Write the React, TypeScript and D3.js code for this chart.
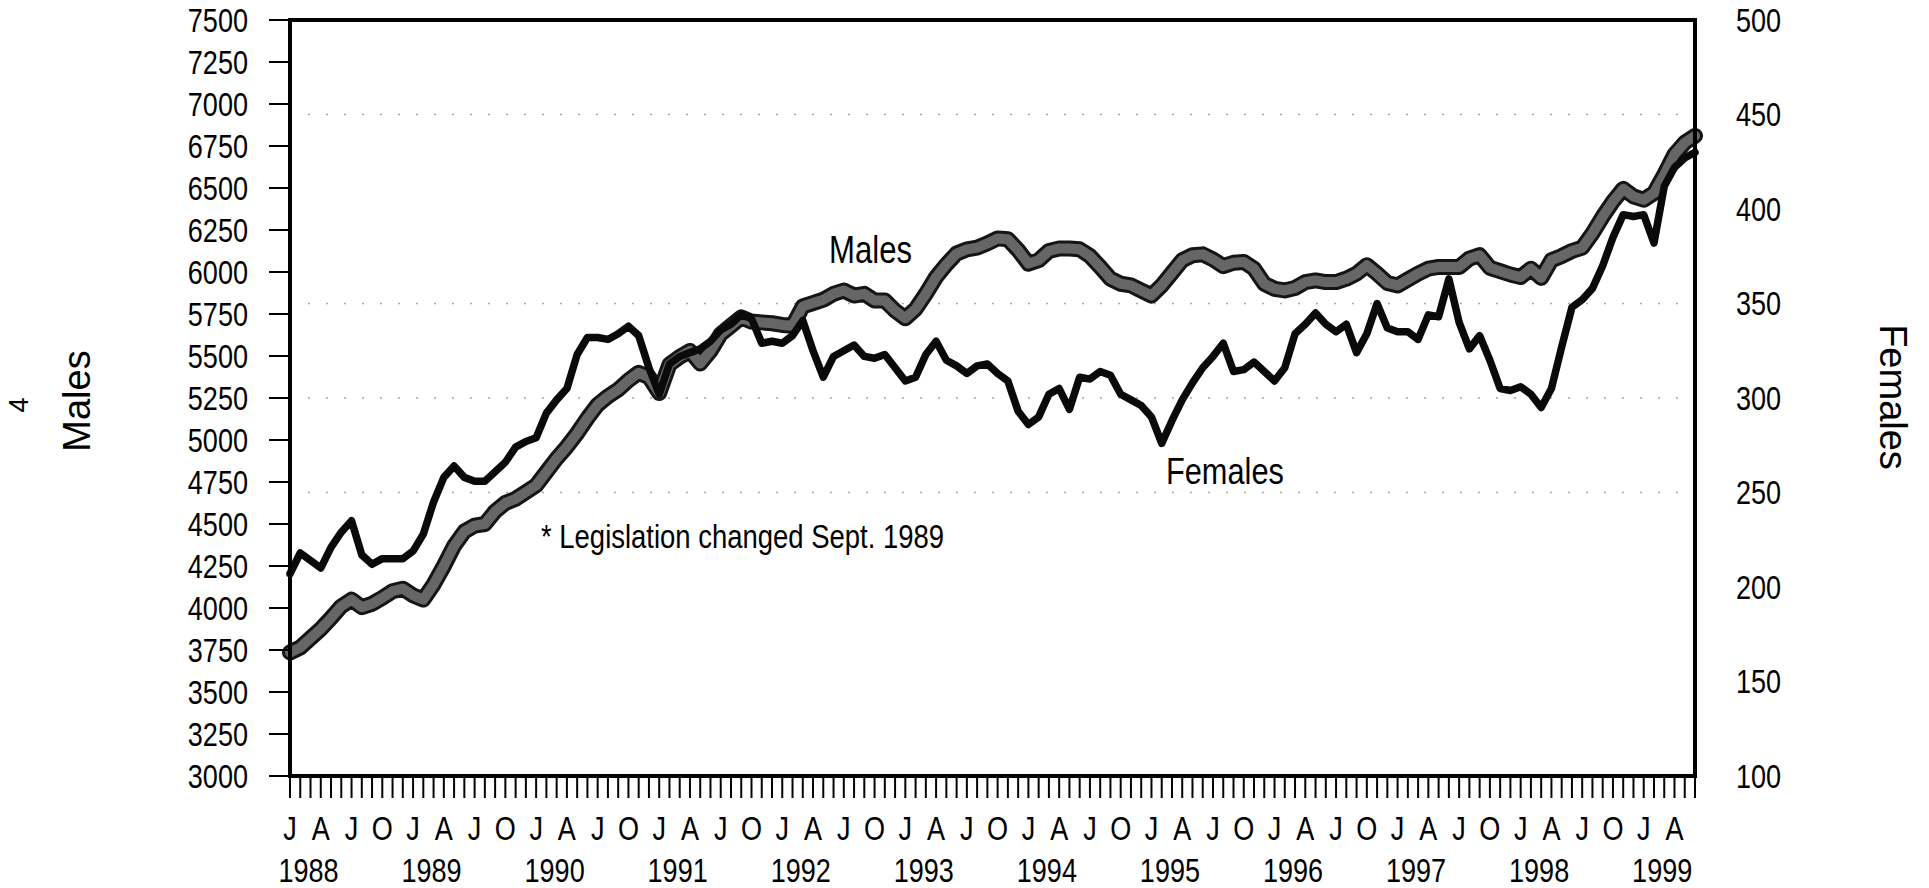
import React from "react";
import * as d3 from "d3";

// Monthly series, Jan 1988 .. Jun 1999
const males: number[] = [
  3735, 3765, 3820, 3875, 3940, 4010, 4050, 4005, 4025, 4060, 4100, 4115,
  4075, 4050, 4140, 4250, 4370, 4455, 4490, 4500, 4575, 4625, 4650, 4690,
  4730, 4810, 4890, 4960, 5040, 5130, 5210, 5260, 5300, 5355, 5400, 5375,
  5280, 5450, 5495, 5530, 5455, 5530, 5630, 5680, 5730, 5705, 5700, 5695,
  5685, 5680, 5795, 5815, 5835, 5870, 5890, 5860, 5870, 5830, 5830, 5770,
  5725, 5780, 5870, 5970, 6045, 6110, 6135, 6145, 6170, 6200, 6195, 6130,
  6050, 6070, 6125, 6140, 6140, 6135, 6095, 6030, 5960, 5930, 5920, 5890,
  5860, 5920, 5995, 6070, 6100, 6105, 6075, 6035, 6055, 6060, 6020, 5930,
  5900, 5890, 5905, 5940, 5950, 5940, 5940, 5960, 5990, 6040, 5990, 5935,
  5920, 5955, 5990, 6020, 6030, 6030, 6030, 6080, 6100, 6025, 6005, 5985,
  5970, 6020, 5965, 6070, 6095, 6125, 6145, 6230, 6330, 6420, 6495, 6450,
  6430, 6470, 6580, 6700, 6770, 6810,
];

const females: number[] = [
  207, 218, 214, 210, 221, 229, 235, 217, 212, 215, 215, 215,
  219, 228, 245, 258, 264, 258, 256, 256, 261, 266, 274, 277,
  279, 292, 299, 305, 323, 332, 332, 331, 334, 338, 333, 316,
  302, 318, 322, 324, 326, 330, 336, 339, 344, 342, 329, 330,
  329, 333, 341, 325, 311, 322, 325, 328, 322, 321, 323, 316,
  309, 311, 323, 330, 320, 317, 313, 317, 318, 313, 309, 293,
  286, 290, 302, 305, 294, 311, 310, 314, 312, 302, 299, 296,
  290, 276, 288, 299, 308, 316, 322, 329, 314, 315, 319, 314,
  309, 316, 334, 339, 345, 339, 335, 339, 324, 334, 350, 337,
  335, 335, 331, 344, 343, 363, 340, 326, 333, 320, 305, 304,
  306, 302, 295, 305, 327, 348, 352, 358, 370, 385, 397, 396,
  397, 382, 412, 422, 427, 430,
];

const leftTicks: number[] = [
  3000, 3250, 3500, 3750, 4000, 4250, 4500, 4750, 5000, 5250, 5500, 5750,
  6000, 6250, 6500, 6750, 7000, 7250, 7500,
];
const rightTicks: number[] = [100, 150, 200, 250, 300, 350, 400, 450, 500];
const gridValues: number[] = [250, 300, 350, 450];
const monthLetters: string[] = ["J", "A", "J", "O"];
const years: string[] = [
  "1988", "1989", "1990", "1991", "1992", "1993", "1994", "1995", "1996",
  "1997", "1998", "1999",
];

const W = 1929;
const H = 888;
const L = 290;
const R = 1695;
const T = 20;
const B = 776;
const NARROW = 0.82;
const FONT = "'Liberation Sans', Arial, sans-serif";

function NText(props: {
  x: number;
  y: number;
  size: number;
  anchor?: "start" | "middle" | "end";
  children: React.ReactNode;
}) {
  return (
    <text
      transform={`translate(${props.x},${props.y}) scale(${NARROW},1)`}
      fontSize={props.size}
      fontFamily={FONT}
      textAnchor={props.anchor || "start"}
      fill="#000"
    >
      {props.children}
    </text>
  );
}

export default function App() {
  const n = males.length;
  const x = d3.scaleLinear().domain([0, n - 1]).range([L, R]);
  const yL = d3.scaleLinear().domain([3000, 7500]).range([B, T]);
  const yR = d3.scaleLinear().domain([100, 500]).range([B, T]);

  const maleLine = d3
    .line<number>()
    .x((_, i) => x(i))
    .y((d) => yL(d));
  const femaleLine = d3
    .line<number>()
    .x((_, i) => x(i))
    .y((d) => yR(d));

  const months = d3.range(n);

  return (
    <svg
      width={W}
      height={H}
      style={{ position: "absolute", left: 0, top: 0, background: "#fff" }}
    >
      <rect x={0} y={0} width={W} height={H} fill="#fff" />

      {/* faint dotted gridlines */}
      {gridValues.map((v) => (
        <line
          key={"g" + v}
          x1={L}
          x2={R}
          y1={yR(v)}
          y2={yR(v)}
          stroke="#a8a8a8"
          strokeWidth={1.5}
          strokeDasharray="2 16"
        />
      ))}

      {/* series */}
      <path
        d={maleLine(males) || ""}
        fill="none"
        stroke="#151515"
        strokeWidth={16}
        strokeLinejoin="round"
        strokeLinecap="round"
      />
      <path
        d={maleLine(males) || ""}
        fill="none"
        stroke="#666"
        strokeWidth={10}
        strokeLinejoin="round"
        strokeLinecap="round"
      />
      <path
        d={femaleLine(females) || ""}
        fill="none"
        stroke="#0a0a0a"
        strokeWidth={7.5}
        strokeLinejoin="round"
        strokeLinecap="round"
      />

      {/* frame */}
      <rect
        x={L}
        y={T}
        width={R - L}
        height={B - T}
        fill="none"
        stroke="#000"
        strokeWidth={4}
      />

      {/* left axis ticks and labels */}
      {leftTicks.map((v) => (
        <g key={"l" + v}>
          <line x1={269} x2={L} y1={yL(v)} y2={yL(v)} stroke="#000" strokeWidth={2} />
          <NText x={248} y={yL(v) + 11.5} size={33} anchor="end">
            {v}
          </NText>
        </g>
      ))}

      {/* right axis labels */}
      {rightTicks.map((v) => (
        <NText key={"r" + v} x={1736} y={yR(v) + 11.5} size={33}>
          {v}
        </NText>
      ))}

      {/* bottom monthly ticks */}
      {months.map((i) => (
        <line
          key={"t" + i}
          x1={x(i)}
          x2={x(i)}
          y1={B}
          y2={798}
          stroke="#000"
          strokeWidth={2}
        />
      ))}

      {/* month letters */}
      {months
        .filter((i) => i % 3 === 0)
        .map((i) => (
          <NText key={"m" + i} x={x(i)} y={840} size={33} anchor="middle">
            {monthLetters[(i / 3) % 4]}
          </NText>
        ))}

      {/* year labels */}
      {years.map((yr, k) => (
        <NText key={yr} x={x(k * 12 + 1.8)} y={882} size={33} anchor="middle">
          {yr}
        </NText>
      ))}

      {/* annotations */}
      <NText x={829} y={263} size={38}>
        Males
      </NText>
      <NText x={1166} y={484} size={37.5}>
        Females
      </NText>
      <NText x={541} y={548} size={33.5}>
        * Legislation changed Sept. 1989
      </NText>

      {/* axis titles */}
      <text
        transform="translate(90,401) rotate(-90)"
        fontSize={38}
        fontFamily={FONT}
        textAnchor="middle"
      >
        Males
      </text>
      <text
        transform="translate(1880,397) rotate(90)"
        fontSize={38}
        fontFamily={FONT}
        textAnchor="middle"
      >
        Females
      </text>
      <text
        transform="translate(28,405) rotate(-90)"
        fontSize={27}
        fontFamily={FONT}
        textAnchor="middle"
      >
        4
      </text>
    </svg>
  );
}
